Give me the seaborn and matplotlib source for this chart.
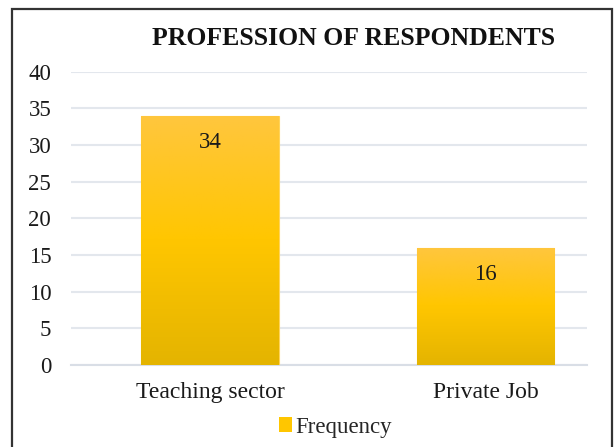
import numpy as np
import pandas as pd
import matplotlib
matplotlib.use("Agg")
import matplotlib.pyplot as plt
import seaborn as sns
from matplotlib.colors import LinearSegmentedColormap
from matplotlib.patches import Rectangle, Patch

# Data
categories = ["Teaching sector", "Private Job"]
frequency = [34, 16]
y_ticks = [0, 5, 10, 15, 20, 25, 30, 35, 40]
title = "PROFESSION OF RESPONDENTS"
series_name = "Frequency"

df = pd.DataFrame({"Profession": categories, series_name: frequency})

sns.set_theme(style="white")
plt.rcParams["font.family"] = ["Liberation Serif", "DejaVu Serif"]

fig = plt.figure(figsize=(6.14, 4.47), dpi=100)
ax = fig.add_axes([0.1151, 0.1834, 0.8404, 0.6562])

sns.barplot(data=df, x="Profession", y=series_name, color="#FFC600",
            width=0.5, ax=ax, edgecolor="#FFD45A", linewidth=0.8, zorder=3)

ax.set_ylim(0, 40)
ax.set_xlim(-0.506, 1.367)

# vertical gold gradient clipped to each bar
gold = LinearSegmentedColormap.from_list(
    "gold", ["#E4B400", "#FFC600", "#FFC63E"])
grad = np.linspace(0, 1, 256).reshape(-1, 1)
for patch in ax.patches:
    x0, y0 = patch.get_x(), patch.get_y()
    w, h = patch.get_width(), patch.get_height()
    im = ax.imshow(grad, extent=[x0, x0 + w, y0, y0 + h], origin="lower",
                   aspect="auto", cmap=gold, zorder=3.5, interpolation="bilinear")
    im.set_clip_path(patch)
ax.set_xlim(-0.506, 1.367)
ax.set_ylim(0, 40)

# value labels inside the top of each bar
for patch, val in zip(ax.patches, frequency):
    ax.text(patch.get_x() + patch.get_width() / 2, val - 3.7, f"{val}",
            ha="center", va="center", fontsize=16.5, color="#1a1a1a", zorder=5)

ax.set_yticks(y_ticks)
ax.yaxis.grid(True, color="#E3E7ED", linewidth=1.5, zorder=0)
ax.set_axisbelow(True)
for s in ["top", "right", "left"]:
    ax.spines[s].set_visible(False)
ax.spines["bottom"].set_color("#D9DEE6")
ax.spines["bottom"].set_linewidth(1.5)
ax.tick_params(axis="y", length=0, pad=14, labelsize=16.5, labelcolor="#1a1a1a")
ax.tick_params(axis="x", length=0, pad=12, labelsize=17, labelcolor="#1a1a1a")
ax.set_xlabel("")
ax.set_ylabel("")

fig.text(0.5757, 0.913, title, ha="center", va="center",
         fontsize=18.5, fontweight="bold", color="#111111")

handle = Patch(facecolor="#FFC600", edgecolor="none")
fig.legend([handle], [series_name], loc="center", bbox_to_anchor=(0.5464, 0.044),
           frameon=False, fontsize=16.5, handlelength=0.6, handleheight=0.6,
           handletextpad=0.15, borderpad=0)

# outer frame
fig.patches.append(Rectangle((12 / 614, -0.05), (612 - 12) / 614, 1.05 - 9 / 447,
                             transform=fig.transFigure, fill=False,
                             edgecolor="#333333", linewidth=1.6))

fig.savefig("out.png", dpi=100)
